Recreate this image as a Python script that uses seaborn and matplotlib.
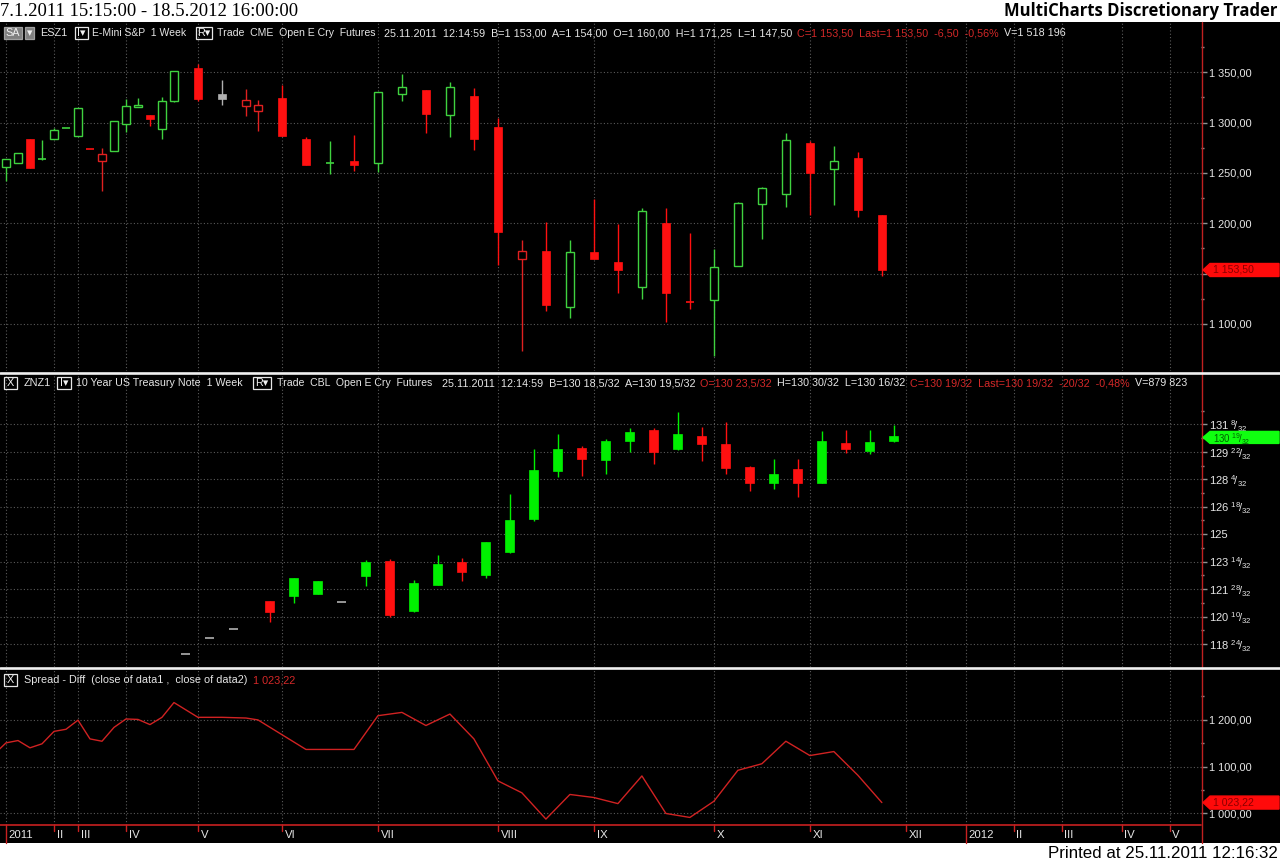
import numpy as np
import pandas as pd
import matplotlib
matplotlib.use("Agg")
import matplotlib.pyplot as plt
import seaborn as sns
from matplotlib.patches import Rectangle, Polygon
from matplotlib.lines import Line2D
from matplotlib.transforms import blended_transform_factory, IdentityTransform

# ---------------- data ----------------
# bar-axis slot positions (MultiCharts bar index, two series interleaved)
es_slot = [0, 1, 2, 3, 4, 5, 6, 7, 8, 9, 10, 11, 12, 13, 14, 16, 18, 20, 21, 23, 25, 27, 29, 31,
           33, 35, 37, 39, 41, 43, 45, 47, 49, 51, 53, 55, 57, 59, 61, 63, 65, 67, 69, 71, 73]
es_open = [1256.25, 1260.25, 1283.75, 1263.25, 1283.50, 1294.25, 1287.00, 1273.75, 1262.25, 1272.25,
           1298.25, 1315.25, 1307.50, 1293.50, 1321.00, 1354.00, 1328.00, 1316.25, 1311.25, 1324.25,
           1283.75, 1259.50, 1261.50, 1259.50, 1328.00, 1332.00, 1307.25, 1326.50, 1295.50, 1164.25,
           1172.50, 1116.50, 1171.50, 1161.50, 1136.50, 1200.25, 1122.00, 1123.25, 1157.50, 1219.00,
           1229.50, 1279.75, 1253.50, 1265.00, 1208.25]
es_high = [1264.00, 1269.75, 1284.00, 1282.75, 1294.50, 1294.75, 1314.25, 1274.00, 1274.50, 1301.25,
           1323.25, 1324.75, 1307.75, 1325.25, 1351.00, 1358.25, 1342.50, 1333.00, 1322.50, 1337.50,
           1285.50, 1281.75, 1288.00, 1330.00, 1348.25, 1332.00, 1340.75, 1334.00, 1305.00, 1183.50,
           1201.00, 1183.50, 1224.25, 1199.00, 1215.00, 1215.00, 1190.75, 1174.25, 1221.50, 1236.00,
           1289.50, 1281.75, 1276.25, 1270.50, 1208.50]
es_low = [1241.50, 1259.75, 1255.25, 1263.00, 1283.25, 1294.25, 1287.00, 1273.75, 1232.00, 1272.00,
          1291.00, 1315.25, 1297.00, 1283.75, 1320.00, 1321.00, 1317.50, 1306.50, 1292.00, 1286.75,
          1258.00, 1248.75, 1252.25, 1251.25, 1321.00, 1289.50, 1285.50, 1272.75, 1158.50, 1072.50,
          1112.25, 1106.25, 1164.50, 1130.50, 1124.50, 1102.25, 1114.50, 1068.25, 1157.00, 1184.50,
          1216.50, 1208.25, 1218.25, 1206.50, 1148.00]
es_close = [1263.50, 1269.50, 1255.25, 1263.75, 1292.50, 1294.50, 1314.25, 1273.75, 1268.50, 1301.25,
            1316.25, 1317.25, 1304.00, 1321.25, 1351.00, 1323.50, 1323.50, 1322.75, 1317.25, 1286.75,
            1258.00, 1260.00, 1258.25, 1330.00, 1335.75, 1309.00, 1335.00, 1284.00, 1191.75, 1172.25,
            1118.25, 1171.25, 1164.50, 1153.00, 1212.00, 1131.00, 1122.00, 1156.25, 1220.00, 1235.00,
            1282.75, 1250.25, 1262.00, 1213.50, 1153.50]
es_tone = ["up", "up", "down", "up", "up", "up", "up", "down", "down", "up", "up", "up", "down", "up",
           "up", "down", "flat", "down", "down", "down", "down", "up", "down", "up", "up", "down", "up",
           "down", "down", "down", "down", "up", "down", "down", "up", "down", "down", "up", "up", "up",
           "up", "down", "up", "down", "down"]

zn_slot = [15, 17, 19, 22, 24, 26, 28, 30, 32, 34, 36, 38, 40, 42, 44, 46, 48, 50, 52, 54, 56, 58,
           60, 62, 64, 66, 68, 70, 72, 74]
zn_open = [118.16, 119.07, 119.60, 121.19, 121.50, 121.61, 121.12, 122.63, 123.47, 120.64, 122.12,
           123.39, 122.69, 123.98, 125.85, 128.60, 129.92, 129.20, 130.30, 130.95, 129.83, 130.61,
           130.11, 128.83, 127.92, 128.69, 127.92, 130.19, 129.73, 130.30]
zn_high = [118.16, 119.07, 119.60, 121.19, 122.48, 122.33, 121.12, 123.52, 123.58, 122.39, 123.84,
           123.62, 124.53, 127.31, 129.87, 130.68, 130.00, 130.40, 131.04, 131.06, 131.95, 131.10,
           131.38, 128.86, 129.30, 129.30, 130.85, 130.95, 130.95, 131.23]
zn_low = [118.16, 119.07, 119.60, 120.02, 121.10, 121.61, 121.12, 122.06, 120.28, 120.55, 122.12,
          122.33, 122.48, 123.94, 125.76, 128.26, 128.30, 128.43, 129.68, 128.98, 129.77, 129.17,
          128.45, 127.46, 127.58, 127.12, 127.92, 129.62, 129.58, 130.25]
zn_close = [118.16, 119.07, 119.60, 120.59, 122.48, 122.33, 121.12, 123.39, 120.40, 122.20, 123.33,
            122.84, 124.53, 125.83, 128.64, 129.87, 129.28, 130.28, 130.81, 129.68, 130.72, 130.13,
            128.77, 127.92, 128.45, 127.92, 130.28, 129.85, 130.25, 130.59]
zn_tone = ["flat", "flat", "flat", "down", "up", "up", "flat", "up", "down", "up", "up", "down", "up",
           "up", "up", "up", "down", "up", "up", "down", "up", "down", "down", "down", "up", "down",
           "up", "down", "up", "up"]

spread_slot = [-1, 0, 1, 2, 3, 4, 5, 6, 7, 8, 9, 10, 11, 12, 13, 14, 16, 18, 20, 21, 23, 25, 27, 29,
               31, 33, 35, 37, 39, 41, 43, 45, 47, 49, 51, 53, 55, 57, 59, 61, 63, 65, 67, 69, 71, 73]
spread_val = [1126.0, 1150.5, 1155.5, 1140.0, 1148.5, 1175.0, 1179.5, 1199.0, 1159.0, 1154.0, 1183.5,
              1201.5, 1200.5, 1189.5, 1205.0, 1236.5, 1205.0, 1205.0, 1203.5, 1199.5, 1168.0, 1136.5,
              1136.5, 1136.5, 1208.5, 1215.5, 1187.5, 1212.0, 1159.0, 1069.5, 1044.0, 988.0, 1040.5,
              1034.0, 1021.0, 1080.0, 1000.0, 991.5, 1026.0, 1092.0, 1106.0, 1154.0, 1123.5, 1132.0,
              1081.5, 1023.22]

month_slot = [0, 4, 6, 10, 16, 23, 31, 41, 49, 59, 67, 75, 80, 84, 88, 93, 97]
month_label = ["2011", "II", "III", "IV", "V", "VI", "VII", "VIII", "IX", "X", "XI", "XII",
               "2012", "II", "III", "IV", "V"]
year_slot = [0, 80]

es_ticks = [1100, 1150, 1200, 1250, 1300, 1350]
zn_ticks = [118.75, 120.3125, 121.875, 123.4375, 125.0, 126.5625, 128.125, 129.6875, 131.25]
sp_ticks = [1000, 1100, 1200]

es_last, zn_last, sp_last = 1153.50, 130.59375, 1023.22

# ---------------- style ----------------
sns.set_theme(style="dark")
plt.rcParams["font.family"] = ["Liberation Sans", "DejaVu Sans"]
plt.rcParams["mathtext.fontset"] = "custom"
plt.rcParams["mathtext.rm"] = "Liberation Sans"
plt.rcParams["mathtext.it"] = "Liberation Sans"

W, H = 1280, 863
fig = plt.figure(figsize=(12.8, 8.63), dpi=100)
fig.patch.set_facecolor("white")

def fx(x):
    return x / W

def fy(y):
    return 1 - y / H

fig.add_artist(Rectangle((0, fy(843)), 1, (843 - 22) / H, transform=fig.transFigure,
                         facecolor="black", edgecolor="none", zorder=-10))

GREEN_H = "#3fd23f"
GREEN_F = "#00f000"
RED = "#ff1010"
RED_H = "#e02020"
GRAY = "#b0b0b0"
GRID = "#5a5a5a"
TXT = "#e6e6e6"
TRED = "#d42828"

XL = (-0.5, 99.6)

def make_ax(ytop, ybot):
    ax = fig.add_axes([0, fy(ybot), 1201 / W, (ybot - ytop) / H])
    ax.set_facecolor("black")
    for s in ax.spines.values():
        s.set_visible(False)
    ax.set_xlim(*XL)
    ax.set_xticks(month_slot)
    ax.tick_params(axis="x", length=0, labelbottom=False)
    ax.yaxis.tick_right()
    ax.tick_params(axis="y", which="both", colors="#909090", labelcolor=TXT, labelsize=7.9,
                   direction="out", pad=2)
    ax.tick_params(axis="y", which="major", length=4, width=1)
    ax.tick_params(axis="y", which="minor", length=2, width=1)
    ax.grid(True, which="major", color=GRID, linestyle=(0, (1, 2)), linewidth=0.8)
    ax.set_axisbelow(True)
    return ax

ax1 = make_ax(22, 371)
ax2 = make_ax(374.5, 667)
ax3 = make_ax(670, 825)

ax1.set_ylim(1053.1, 1400.0)
ax2.set_ylim(117.44, 134.09)
ax3.set_ylim(975.4, 1305.9)

def eur(v):
    return f"{v:,.2f}".replace(",", " ").replace(".", ",")

def frac32(v):
    whole = int(np.floor(v + 1e-9))
    n = (v - whole) * 32
    if abs(n) < 0.01:
        return f"{whole}"
    if abs(n - round(n)) < 0.01:
        return f"{whole} $^{{{int(round(n))}}}\\!/_{{32}}$"
    return f"{whole} $^{{{n:.1f}}}\\!/_{{32}}$".replace(".", ",")

# the 1 150,00 label sits under the last-price tag in the original
ax1.set_yticks(es_ticks)
ax1.set_yticklabels(["" if v == 1150 else eur(v) for v in es_ticks])
ax1.set_yticks([v + 25 for v in es_ticks], minor=True)
ax2.set_yticks(zn_ticks)
ax2.set_yticklabels([frac32(v) for v in zn_ticks])
ax2.set_yticks([v + 0.78125 for v in zn_ticks], minor=True)
ax2.tick_params(axis="y", labelsize=8.0)
ax3.set_yticks(sp_ticks)
ax3.set_yticklabels([eur(v) for v in sp_ticks])
ax3.set_yticks([1050, 1150, 1250], minor=True)

# ---------------- candles ----------------
def candles(ax, slot, o, h, l, c, tone, width, hollow_up, up_col, up_fill):
    cmap = {"up": up_col, "down": RED, "flat": GRAY}
    rng = ax.get_ylim()
    for s, oo, hh, ll, cc, tn in zip(slot, o, h, l, c, tone):
        col = cmap[tn]
        if hollow_up and tn == "down" and cc > oo:
            col = RED_H
        ax.vlines(s, ll, hh, color=col, linewidth=1.0, zorder=3)
        span = abs(cc - oo)
        if span < (rng[1] - rng[0]) * 0.002:
            ax.hlines((oo + cc) / 2, s - width / 2, s + width / 2, color=col, linewidth=1.2, zorder=4)
        elif hollow_up and cc > oo:
            ax.bar(s, cc - oo, bottom=oo, width=width, facecolor="black", edgecolor=col,
                   linewidth=1.0, zorder=4)
        else:
            fcol = up_fill if tn == "up" else col
            ax.bar(s, cc - oo, bottom=oo, width=width, facecolor=fcol, edgecolor=fcol,
                   linewidth=0.5, zorder=4)

candles(ax1, es_slot, es_open, es_high, es_low, es_close, es_tone, 0.68, True, GREEN_H, GREEN_H)
candles(ax2, zn_slot, zn_open, zn_high, zn_low, zn_close, zn_tone, 0.75, False, GREEN_F, GREEN_F)

df_sp = pd.DataFrame({"slot": spread_slot, "spread": spread_val})
sns.lineplot(data=df_sp, x="slot", y="spread", ax=ax3, color="#d02222", linewidth=1.0,
             legend=False, zorder=3)
ax3.set_xlim(*XL)
for ax in (ax1, ax2, ax3):
    ax.set_xlabel("")
    ax.set_ylabel("")

# ---------------- date axis ----------------
btr = blended_transform_factory(ax3.transData, fig.transFigure)
ax3.add_line(Line2D([XL[0], XL[1]], [fy(825), fy(825)], transform=btr, color="#c82020",
                    linewidth=1.2, clip_on=False))
for s, lab in zip(month_slot, month_label):
    ybot = 843 if s in year_slot else 831
    ax3.add_line(Line2D([s, s], [fy(825), fy(ybot)], transform=btr, color="#c82020",
                        linewidth=1.0, clip_on=False))
    ax3.text(s + 0.22, fy(835), lab, transform=btr, color=TXT, fontsize=8.2, va="center",
             ha="left", family=["Liberation Sans Narrow", "Liberation Sans"], clip_on=False)

# ---------------- frame lines ----------------
fig.add_artist(Line2D([fx(1201.5), fx(1201.5)], [fy(22), fy(843)], transform=fig.transFigure,
                      color="#c02020", linewidth=1.0, zorder=6))
for yy in (372.8, 668.3):
    fig.add_artist(Line2D([0, 1], [fy(yy), fy(yy)], transform=fig.transFigure,
                          color="#f0f0f0", linewidth=1.9, zorder=6))

# ---------------- last price tags ----------------
fig.canvas.draw()
def tag(ax, v, bg, fg, label, hh=6.5, dy=0.0, tdy=0.0, tsize=7.6):
    _, yc = ax.transData.transform((0, v))
    yc -= dy
    pts = [(1203, yc), (1210, yc + hh), (1279, yc + hh), (1279, yc - hh), (1210, yc - hh)]
    fig.add_artist(Polygon(pts, closed=True, transform=IdentityTransform(), facecolor=bg,
                           edgecolor=bg, zorder=8))
    fig.text(fx(1213), (yc - tdy) / H, label, color=fg, fontsize=tsize, va="center", ha="left",
             zorder=9)

tag(ax1, es_last, "#ff0a0a", "#8a0000", eur(es_last))
tag(ax2, zn_last, "#10ff10", "#006000", frac32(zn_last), hh=6.0, dy=1.5, tdy=2.0, tsize=6.9)
tag(ax3, sp_last, "#ff0a0a", "#8a0000", eur(sp_last))

# ---------------- texts ----------------
fig.text(0, fy(11), "7.1.2011 15:15:00 - 18.5.2012 16:00:00", fontsize=13.4,
         family="Liberation Serif", color="black", va="center", ha="left")
fig.text(fx(1277), fy(11), "MultiCharts Discretionary Trader", fontsize=12, family="Open Sans",
         fontweight="bold", color="black", va="center", ha="right")
fig.text(fx(1278), fy(853), "Printed at 25.11.2011 12:16:32", fontsize=12.2,
         family=["Liberation Sans Narrow", "Liberation Sans"], color="black", va="center", ha="right")

renderer = fig.canvas.get_renderer()

def box(x0, x1, y, label, fill=None, ec="#e6e6e6", size=7.8):
    fig.add_artist(Rectangle((fx(x0), fy(y + 6)), (x1 - x0) / W, 12 / H, transform=fig.transFigure,
                             facecolor=fill if fill else "none", edgecolor=ec, linewidth=0.9, zorder=7))
    fig.text(fx((x0 + x1) / 2), fy(y), label, color="#f0f0f0", fontsize=size, va="center", ha="center",
             family=["Liberation Sans", "DejaVu Sans"], zorder=8)

def seq(x, y, parts, gap=5, size=7.8):
    for s, col in parts:
        t = fig.text(fx(x), fy(y), s, color=col, fontsize=size, va="center", ha="left",
                     family=["Liberation Sans", "DejaVu Sans"], zorder=8)
        bb = t.get_window_extent(renderer=renderer)
        x = bb.x1 + gap
    return x

# panel 1 header
y1 = 33
box(4, 22, y1, "SA", fill="#808080", ec="#a0a0a0")
box(25, 34, y1, "\u25BE", fill="#808080", ec="#a0a0a0")
seq(40, y1, [("ESZ1", TXT)])
box(75, 88, y1, "I\u25BE")
seq(92, y1, [("E-Mini S&P  1 Week", TXT)], size=7.5)
box(196, 212, y1, "R\u25BE")
seq(217, y1, [("Trade  CME  Open E Cry  Futures", TXT)], size=7.6)
seq(384, y1, [("25.11.2011  12:14:59  B=1 153,00  A=1 154,00  O=1 160,00  H=1 171,25  L=1 147,50", TXT),
              ("C=1 153,50  Last=1 153,50  -6,50  -0,56%", TRED),
              ("V=1 518 196", TXT)], gap=5, size=7.75)

# panel 2 header
y2 = 383
box(4, 17, y2, "X")
seq(24, y2, [("ZNZ1", TXT)])
box(57, 71, y2, "I\u25BE")
seq(76, y2, [("10 Year US Treasury Note  1 Week", TXT)], size=7.7)
box(253, 271, y2, "R\u25BE")
seq(277, y2, [("Trade  CBL  Open E Cry  Futures", TXT)], size=7.6)
seq(442, y2, [("25.11.2011  12:14:59  B=130 18,5/32  A=130 19,5/32", TXT),
              ("O=130 23,5/32", TRED),
              ("H=130 30/32  L=130 16/32", TXT),
              ("C=130 19/32  Last=130 19/32  -20/32  -0,48%", TRED),
              ("V=879 823", TXT)], gap=5, size=7.75)

# panel 3 header
y3 = 680
box(4, 17, y3, "X")
seq(24, y3, [("Spread - Diff  (close of data1 ,  close of data2)", TXT), ("1 023,22", TRED)],
    gap=6, size=7.85)

fig.savefig("out.png", dpi=100, facecolor="white")
